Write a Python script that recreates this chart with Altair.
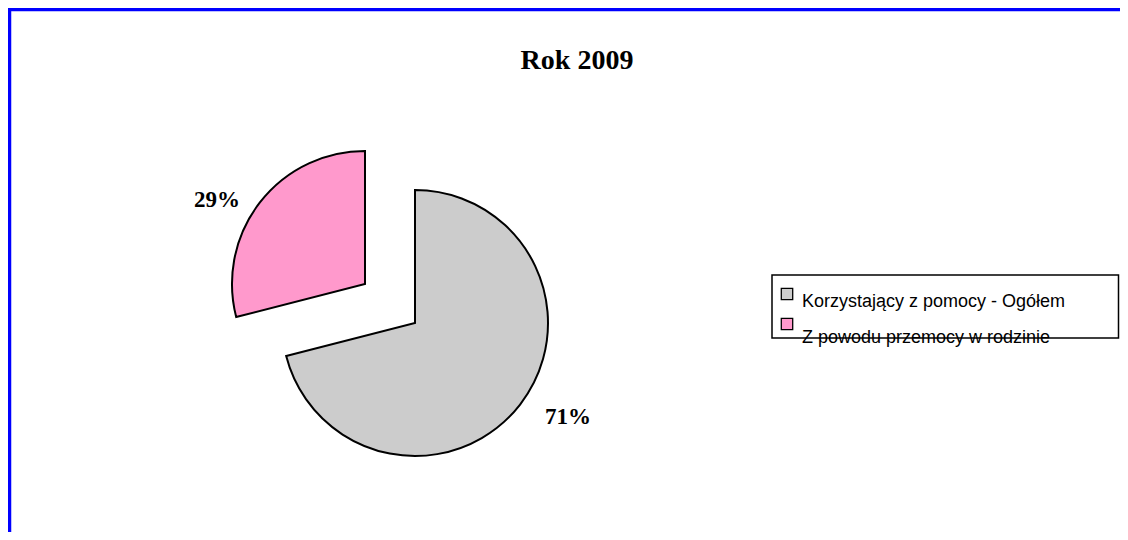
import altair as alt
import pandas as pd

categories = ["Korzystający z pomocy - Ogółem", "Z powodu przemocy w rodzinie"]
shares = [71, 29]
slice_colors = ["#CCCCCC", "#FF99CC"]
title_text = ["Rok 2009"]

df = pd.DataFrame({"category": categories, "share": shares, "order": [0, 1]})
df["label"] = [f"{s}%" for s in shares]
one = pd.DataFrame({"title": title_text})

color = alt.Color("category:N", scale=alt.Scale(domain=categories, range=slice_colors), legend=None)
base = alt.Chart(df)


def slice_layer(cat, cx, cy):
    return base.mark_arc(radius=133, stroke="black", strokeWidth=2).encode(
        theta=alt.Theta("share:Q", stack=True),
        order=alt.Order("order:Q"),
        color=color,
        opacity=alt.condition(alt.datum.category == cat, alt.value(1), alt.value(0)),
        x=alt.value(cx),
        y=alt.value(cy),
    )


def label_layer(cat, lx, ly):
    return base.mark_text(
        font="Liberation Serif", fontWeight="bold", fontSize=23, baseline="middle", align="center"
    ).encode(text="label:N", x=alt.value(lx), y=alt.value(ly)).transform_filter(
        alt.datum.category == cat
    )


border = alt.Chart(one).mark_rect(fill=None, stroke="#0000FF", strokeWidth=3.5).encode(
    x=alt.value(1.5), y=alt.value(1.5), x2=alt.value(1300), y2=alt.value(800)
)

title = alt.Chart(one).mark_text(
    font="Liberation Serif", fontWeight="bold", fontSize=28, align="center", baseline="alphabetic"
).encode(text="title:N", x=alt.value(569), y=alt.value(61))

legend_box = alt.Chart(one).mark_rect(fill="white", stroke="black", strokeWidth=1.5).encode(
    x=alt.value(764), x2=alt.value(1110.5), y=alt.value(267), y2=alt.value(330)
)

legend_sq = base.mark_square(size=130, stroke="black", strokeWidth=1.3, opacity=1).encode(
    x=alt.value(779),
    y=alt.Y("order:Q", scale=alt.Scale(domain=[0, 1], range=[286, 316], zero=False, nice=False), axis=None),
    color=color,
)
legend_txt = base.mark_text(
    font="Liberation Sans", fontSize=18, align="left", baseline="alphabetic"
).encode(
    x=alt.value(794),
    y=alt.Y("order:Q", scale=alt.Scale(domain=[0, 1], range=[299, 335], zero=False, nice=False), axis=None),
    text="category:N",
)

chart = alt.layer(
    border,
    title,
    slice_layer(categories[0], 407, 315),
    slice_layer(categories[1], 357, 276),
    label_layer(categories[0], 560, 409),
    label_layer(categories[1], 209, 192),
    legend_box,
    legend_sq,
    legend_txt,
).resolve_scale(y="independent").properties(
    width=1112, height=524, padding=0, autosize="none", background="white"
).configure_view(stroke=None)

chart.save("out.html", embed_options={"renderer": "svg", "actions": False})
